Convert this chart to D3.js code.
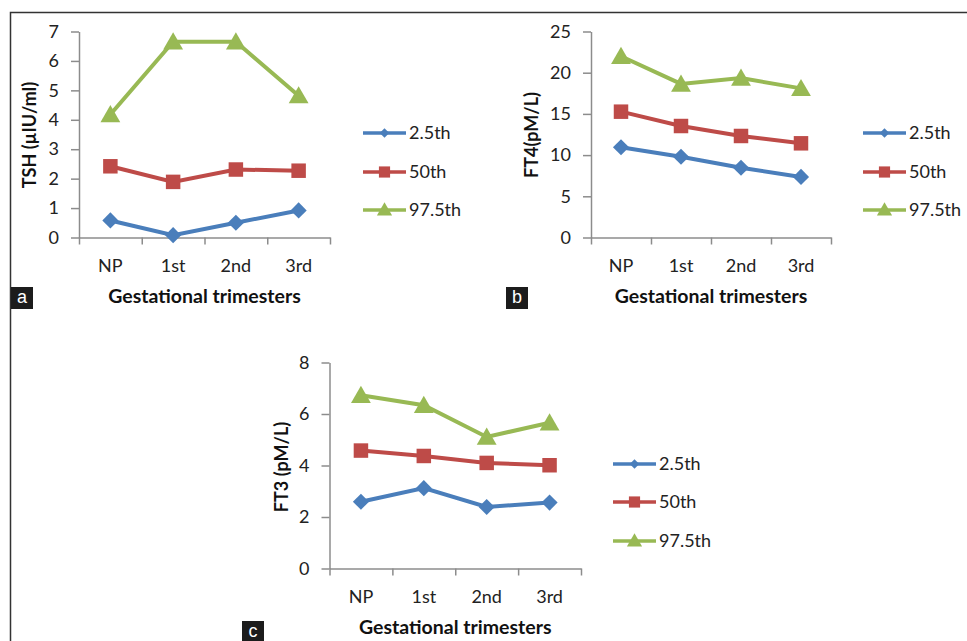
<!DOCTYPE html>
<html>
<head>
<meta charset="utf-8">
<script src="https://cdn.jsdelivr.net/npm/d3@7"></script>
<style>
  body { margin: 0; background: #fff; }
  svg { display: block; }
  text { font-family: Lato, "Open Sans", sans-serif; }
</style>
</head>
<body>
<script>
// values
var categories = ["NP", "1st", "2nd", "3rd"];
var seriesNames = ["2.5th", "50th", "97.5th"];

var tshP025 = [0.58, 0.08, 0.5, 0.92];
var tshP50 = [2.42, 1.89, 2.31, 2.27];
var tshP975 = [4.18, 6.65, 6.65, 4.82];
var tshTicks = [0, 1, 2, 3, 4, 5, 6, 7];

var ft4P025 = [10.95, 9.8, 8.46, 7.35];
var ft4P50 = [15.27, 13.53, 12.32, 11.43];
var ft4P975 = [22.0, 18.64, 19.35, 18.1];
var ft4Ticks = [0, 5, 10, 15, 20, 25];

var ft3P025 = [2.59, 3.12, 2.39, 2.56];
var ft3P50 = [4.58, 4.37, 4.1, 4.01];
var ft3P975 = [6.73, 6.34, 5.11, 5.66];
var ft3Ticks = [0, 2, 4, 6, 8];

var colors = ["#4a7ebb", "#be4b48", "#98b954"];
// excel style diamond is a square turned 45 degrees
var shapes = [d3.symbolSquare, d3.symbolSquare, d3.symbolTriangle];
var turns = [45, 0, 0];

var width = 967,
    height = 641;

var svg = d3.select("body").append("svg")
    .attr("width", width)
    .attr("height", height);

// frame
svg.append("path")
    .attr("d", "M10.5,641V12.5H967")
    .attr("fill", "none")
    .attr("stroke", "#333")
    .attr("stroke-width", 1.5);

var panels = [
  { id: "a", title: "TSH (\u00b5IU/ml)", series: [tshP025, tshP50, tshP975], ticks: tshTicks,
    left: 79, right: 330, top: 31.5, bottom: 237.5, titleX: 30, titleY: 135,
    legendX: 363, legendY: [133, 172, 210], boxX: 11, boxY: 287 },
  { id: "b", title: "FT4(pM/L)", series: [ft4P025, ft4P50, ft4P975], ticks: ft4Ticks,
    left: 591, right: 831, top: 31.5, bottom: 237.5, titleX: 532, titleY: 135,
    legendX: 863, legendY: [133, 172, 210], boxX: 506, boxY: 287 },
  { id: "c", title: "FT3 (pM/L)", series: [ft3P025, ft3P50, ft3P975], ticks: ft3Ticks,
    left: 329.5, right: 581, top: 362.5, bottom: 568.5, titleX: 282, titleY: 467,
    legendX: 613, legendY: [464, 502, 541], boxX: 242, boxY: 621 }
];

panels.forEach(drawPanel);

function drawPanel(p) {
  var g = svg.append("g");

  var x = d3.scaleBand()
      .domain(categories)
      .range([p.left, p.right]);

  var xEdge = d3.scaleLinear()
      .domain([0, categories.length])
      .range([p.left, p.right]);

  var y = d3.scaleLinear()
      .domain([0, d3.max(p.ticks)])
      .range([p.bottom, p.top]);

  // y axis
  var yAxis = g.append("g")
      .attr("transform", "translate(" + p.left + ",0)")
      .call(d3.axisLeft(y).tickValues(p.ticks).tickFormat(d3.format("d"))
        .tickSize(8).tickPadding(12).tickSizeOuter(0));
  yAxis.select(".domain").attr("stroke", "#8c8c8c").attr("stroke-width", 1.5);
  yAxis.selectAll(".tick line").attr("stroke", "#8c8c8c").attr("stroke-width", 1.5);
  yAxis.selectAll(".tick text")
      .attr("font-size", 18)
      .attr("fill", "#222")
      .style("font-family", "Lato, sans-serif");

  // x axis, ticks on the category edges
  var xAxis = g.append("g")
      .attr("transform", "translate(0," + p.bottom + ")")
      .call(d3.axisBottom(xEdge).tickValues(d3.range(categories.length + 1))
        .tickSize(7).tickSizeOuter(0).tickFormat(""));
  xAxis.select(".domain").attr("stroke", "#8c8c8c").attr("stroke-width", 1.5);
  xAxis.selectAll(".tick line").attr("stroke", "#8c8c8c").attr("stroke-width", 1.5);

  g.selectAll(".xlab")
      .data(categories)
    .enter().append("text")
      .attr("class", "xlab")
      .attr("x", function(d) { return x(d) + x.bandwidth() / 2; })
      .attr("y", p.bottom + 34)
      .attr("text-anchor", "middle")
      .attr("font-size", 18)
      .attr("fill", "#222")
      .text(function(d) { return d; });

  // axis titles
  g.append("text")
      .attr("x", (p.left + p.right) / 2)
      .attr("y", p.bottom + 65)
      .attr("text-anchor", "middle")
      .attr("font-size", 19.5)
      .attr("font-weight", "bold")
      .attr("fill", "#111")
      .text("Gestational trimesters");

  g.append("text")
      .attr("transform", "translate(" + (p.titleX + 6) + "," + p.titleY + ") rotate(-90)")
      .attr("text-anchor", "middle")
      .attr("font-size", 18)
      .attr("font-weight", "bold")
      .attr("fill", "#111")
      .text(p.title);

  // lines and markers
  var line = d3.line()
      .x(function(d, i) { return x(categories[i]) + x.bandwidth() / 2; })
      .y(function(d) { return y(d); });

  p.series.forEach(function(values, s) {
    g.append("path")
        .datum(values)
        .attr("fill", "none")
        .attr("stroke", colors[s])
        .attr("stroke-width", 4)
        .attr("d", line);

    g.selectAll(".m" + s)
        .data(values)
      .enter().append("path")
        .attr("class", "m" + s)
        .attr("fill", colors[s])
        .attr("d", d3.symbol().type(shapes[s]).size(s === 0 ? 130 : s === 1 ? 210 : 170))
        .attr("transform", function(d, i) {
          var ty = y(d) + (s === 2 ? 2 : 0);
          return "translate(" + (x(categories[i]) + x.bandwidth() / 2) + "," + ty + ") rotate(" + turns[s] + ")";
        });
  });

  // legend
  seriesNames.forEach(function(name, s) {
    var ly = p.legendY[s];
    g.append("line")
        .attr("x1", p.legendX).attr("x2", p.legendX + 43)
        .attr("y1", ly).attr("y2", ly)
        .attr("stroke", colors[s])
        .attr("stroke-width", 3.5);
    g.append("path")
        .attr("fill", colors[s])
        .attr("d", d3.symbol().type(shapes[s]).size(s === 0 ? 45 : s === 1 ? 125 : 100))
        .attr("transform", "translate(" + (p.legendX + 21.5) + "," + (ly + (s === 2 ? 1 : 0)) + ") rotate(" + turns[s] + ")");
    g.append("text")
        .attr("x", p.legendX + 46)
        .attr("y", ly)
        .attr("dy", "0.35em")
        .attr("font-size", 18)
        .attr("fill", "#222")
        .text(name);
  });

  // panel letter
  g.append("rect")
      .attr("x", p.boxX).attr("y", p.boxY)
      .attr("width", 22).attr("height", 22)
      .attr("fill", "#1c1c1c");
  g.append("text")
      .attr("x", p.boxX + 11).attr("y", p.boxY + 16)
      .attr("text-anchor", "middle")
      .attr("font-size", 18)
      .attr("fill", "#fff")
      .style("font-family", "Liberation Sans, Arial, sans-serif")
      .text(p.id);
}
</script>
</body>
</html>
